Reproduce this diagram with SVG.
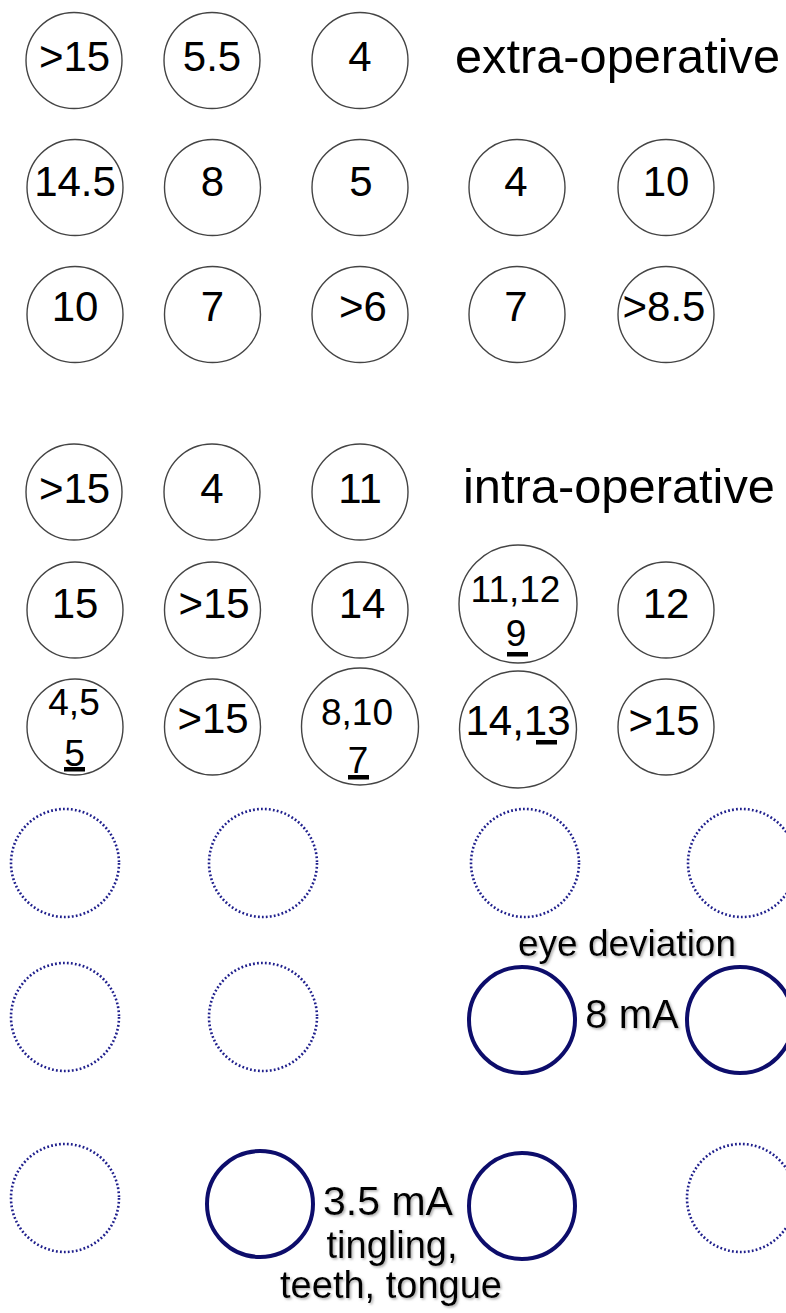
<svg xmlns="http://www.w3.org/2000/svg" width="786" height="1313" viewBox="0 0 786 1313">
<defs>
<filter id="sh" x="-10%" y="-20%" width="130%" height="150%">
<feDropShadow dx="1.5" dy="1.5" stdDeviation="1.2" flood-color="#777" flood-opacity="0.6"/>
</filter>
</defs>
<style>
.c{fill:#fff;stroke:#444;stroke-width:1.4}
.d{fill:none;stroke:#1f1f8c;stroke-width:2.6;stroke-dasharray:1.8 2.2}
.s{fill:none;stroke:#0d0d6b;stroke-width:4}
text{font-family:"Liberation Sans",Arial,sans-serif;fill:#000;text-anchor:middle}
.n{font-size:42px}
.m{font-size:37px}
.l{font-size:48px;text-anchor:start}
.b{filter:url(#sh)}
.u{fill:#000}
</style>
<rect width="786" height="1313" fill="#fff"/>
<g id="connectors"/>

<!-- Row 1 -->
<g id="e11"><circle class="c" cx="74" cy="60.5" r="48"/><text class="n" x="74.5" y="71">&gt;15</text></g>
<g id="e12"><circle class="c" cx="212" cy="60.5" r="48"/><text class="n" x="212" y="71">5.5</text></g>
<g id="e13"><circle class="c" cx="360" cy="60.5" r="48"/><text class="n" x="360" y="71">4</text></g>
<g id="label-extra"><text class="l" x="455" y="73" textLength="325" lengthAdjust="spacingAndGlyphs">extra-operative</text></g>

<!-- Row 2 -->
<g id="e21"><circle class="c" cx="75" cy="187.5" r="48"/><text class="n" x="75" y="196">14.5</text></g>
<g id="e22"><circle class="c" cx="212.5" cy="187.5" r="48"/><text class="n" x="212.5" y="196">8</text></g>
<g id="e23"><circle class="c" cx="360" cy="187.5" r="48"/><text class="n" x="361" y="196">5</text></g>
<g id="e24"><circle class="c" cx="517" cy="187.5" r="48"/><text class="n" x="516" y="196">4</text></g>
<g id="e25"><circle class="c" cx="666" cy="187.5" r="48"/><text class="n" x="666" y="196">10</text></g>

<!-- Row 3 -->
<g id="e31"><circle class="c" cx="75" cy="314.5" r="48"/><text class="n" x="75" y="321">10</text></g>
<g id="e32"><circle class="c" cx="212.5" cy="314.5" r="48"/><text class="n" x="212.5" y="321">7</text></g>
<g id="e33"><circle class="c" cx="360" cy="314.5" r="48"/><text class="n" x="363" y="321">&gt;6</text></g>
<g id="e34"><circle class="c" cx="517" cy="314.5" r="48"/><text class="n" x="516" y="321">7</text></g>
<g id="e35"><circle class="c" cx="666" cy="314.5" r="48"/><text class="n" x="664" y="321">&gt;8.5</text></g>

<!-- Row 4 -->
<g id="i11"><circle class="c" cx="74" cy="492" r="48"/><text class="n" x="74.5" y="503">&gt;15</text></g>
<g id="i12"><circle class="c" cx="212" cy="492" r="48"/><text class="n" x="212" y="503">4</text></g>
<g id="i13"><circle class="c" cx="360" cy="492" r="48"/><text class="n" x="360" y="503">11</text></g>
<g id="label-intra"><text class="l" x="463" y="503" textLength="312" lengthAdjust="spacingAndGlyphs">intra-operative</text></g>

<!-- Row 5 -->
<g id="i21"><circle class="c" cx="75" cy="610" r="48"/><text class="n" x="75" y="618">15</text></g>
<g id="i22"><circle class="c" cx="212.5" cy="610" r="48"/><text class="n" x="214" y="618">&gt;15</text></g>
<g id="i23"><circle class="c" cx="360" cy="610" r="48"/><text class="n" x="362" y="618">14</text></g>
<g id="i24"><circle class="c" cx="518" cy="604" r="59"/><text class="m" x="515.5" y="602">11,12</text><text class="m" x="516" y="646">9</text><rect class="u" x="507" y="652" width="21" height="4.5"/></g>
<g id="i25"><circle class="c" cx="666" cy="610" r="48"/><text class="n" x="666" y="618">12</text></g>

<!-- Row 6 -->
<g id="i31"><circle class="c" cx="75" cy="727" r="48"/><text class="m" x="74" y="715">4,5</text><text class="m" x="74.5" y="766">5</text><rect class="u" x="64" y="767" width="21" height="4.5"/></g>
<g id="i32"><circle class="c" cx="212.5" cy="727" r="48"/><text class="n" x="213" y="733">&gt;15</text></g>
<g id="i33"><circle class="c" cx="360" cy="726.5" r="58.5"/><text class="m" x="357" y="725">8,10</text><text class="m" x="358" y="773">7</text><rect class="u" x="348" y="775" width="21" height="4.5"/></g>
<g id="i34"><circle class="c" cx="518" cy="729.5" r="58.5"/><text class="n" x="518" y="735">14,13</text><rect class="u" x="536" y="740" width="21" height="4.5"/></g>
<g id="i35"><circle class="c" cx="666" cy="727" r="48"/><text class="n" x="664" y="735">&gt;15</text></g>

<!-- Row 7 dotted -->
<g id="p11"><circle class="d" cx="65" cy="863" r="54"/></g>
<g id="p12"><circle class="d" cx="263" cy="863" r="54"/></g>
<g id="p13"><circle class="d" cx="525" cy="863" r="54"/></g>
<g id="p14"><circle class="d" cx="742" cy="863" r="54"/></g>

<!-- Row 8 -->
<g id="p21"><circle class="d" cx="65" cy="1017" r="54"/></g>
<g id="p22"><circle class="d" cx="263" cy="1017" r="54"/></g>
<g id="p23"><circle class="s" cx="522" cy="1020" r="53"/></g>
<g id="p24"><circle class="s" cx="740" cy="1020" r="53"/></g>
<g id="label-eye"><text class="b" x="627" y="956" font-size="37">eye deviation</text><text class="b" x="632" y="1028" font-size="40">8 mA</text></g>

<!-- Row 9 -->
<g id="p31"><circle class="d" cx="65" cy="1198" r="54"/></g>
<g id="p32"><circle class="s" cx="260" cy="1204" r="53"/></g>
<g id="p33"><circle class="s" cx="522" cy="1206" r="53"/></g>
<g id="p34"><circle class="d" cx="741" cy="1198" r="54"/></g>
<g id="label-tingle"><text class="b" x="388" y="1215" font-size="41">3.5 mA</text><text class="b" x="392" y="1258" font-size="38">tingling,</text><text class="b" x="391" y="1298" font-size="38">teeth, tongue</text></g>
</svg>
